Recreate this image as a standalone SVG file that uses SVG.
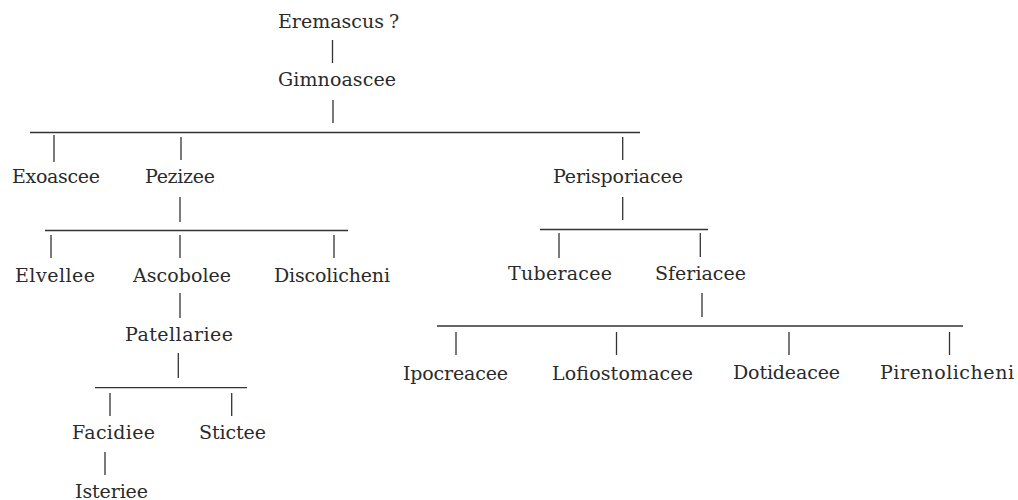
<svg xmlns="http://www.w3.org/2000/svg" width="1018" height="500" viewBox="0 0 1018 500">
<style>
text{font-family:"DejaVu Serif","Liberation Serif",serif;font-size:19px;fill:#2a2a2a}
.c line{stroke:#333;stroke-width:1.3;fill:none}
</style>
<rect width="1018" height="500" fill="#fff"/>
<g class="c" id="connectors">
<line x1="332.5" y1="40" x2="332.5" y2="63"/>
<line x1="333" y1="100" x2="333" y2="123"/>
<line x1="30" y1="132.5" x2="640" y2="132.5"/>
<line x1="54" y1="135" x2="54" y2="162"/>
<line x1="181" y1="137" x2="181" y2="160"/>
<line x1="622.7" y1="137" x2="622.7" y2="160"/>
<line x1="180" y1="197" x2="180" y2="222"/>
<line x1="45" y1="230.5" x2="348" y2="230.5"/>
<line x1="51" y1="235" x2="51" y2="258"/>
<line x1="180" y1="235" x2="180" y2="258"/>
<line x1="334" y1="235" x2="334" y2="258"/>
<line x1="622.7" y1="197" x2="622.7" y2="220"/>
<line x1="540" y1="229.5" x2="708" y2="229.5"/>
<line x1="559" y1="233" x2="559" y2="258"/>
<line x1="700.3" y1="233" x2="700.3" y2="257"/>
<line x1="180" y1="293" x2="180" y2="318"/>
<line x1="702" y1="293" x2="702" y2="317"/>
<line x1="437" y1="326" x2="963" y2="326"/>
<line x1="456" y1="332" x2="456" y2="355"/>
<line x1="616.5" y1="332" x2="616.5" y2="355"/>
<line x1="789" y1="332" x2="789" y2="355"/>
<line x1="949.5" y1="332" x2="949.5" y2="355"/>
<line x1="178.3" y1="353" x2="178.3" y2="378"/>
<line x1="95" y1="387.7" x2="247" y2="387.7"/>
<line x1="110" y1="393" x2="110" y2="416"/>
<line x1="231.7" y1="393" x2="231.7" y2="416"/>
<line x1="105" y1="452" x2="105" y2="475"/>
</g>
<g id="n-eremascus"><text x="278" y="28">Eremascus<tspan dx="5">?</tspan></text></g>
<g id="n-gimnoascee"><text x="278" y="86" textLength="118" lengthAdjust="spacing">Gimnoascee</text></g>
<g id="n-exoascee"><text x="12" y="183" textLength="88" lengthAdjust="spacing">Exoascee</text></g>
<g id="n-pezizee"><text x="145" y="183" textLength="70" lengthAdjust="spacing">Pezizee</text></g>
<g id="n-perisporiacee"><text x="553" y="183" textLength="130" lengthAdjust="spacing">Perisporiacee</text></g>
<g id="n-elvellee"><text x="15" y="282" textLength="80" lengthAdjust="spacing">Elvellee</text></g>
<g id="n-ascobolee"><text x="133" y="282" textLength="98" lengthAdjust="spacing">Ascobolee</text></g>
<g id="n-discolicheni"><text x="274" y="282" textLength="116" lengthAdjust="spacing">Discolicheni</text></g>
<g id="n-tuberacee"><text x="508" y="280" textLength="104" lengthAdjust="spacing">Tuberacee</text></g>
<g id="n-sferiacee"><text x="655" y="280" textLength="91" lengthAdjust="spacing">Sferiacee</text></g>
<g id="n-patellariee"><text x="125" y="341" textLength="108" lengthAdjust="spacing">Patellariee</text></g>
<g id="n-ipocreacee"><text x="403" y="380" textLength="105" lengthAdjust="spacing">Ipocreacee</text></g>
<g id="n-lofiostomacee"><text x="552" y="380" textLength="141" lengthAdjust="spacing">Lofiostomacee</text></g>
<g id="n-dotideacee"><text x="733" y="379" textLength="107" lengthAdjust="spacing">Dotideacee</text></g>
<g id="n-pirenolicheni"><text x="880" y="379" textLength="134" lengthAdjust="spacing">Pirenolicheni</text></g>
<g id="n-facidiee"><text x="72" y="439" textLength="83" lengthAdjust="spacing">Facidiee</text></g>
<g id="n-stictee"><text x="199" y="439" textLength="67" lengthAdjust="spacing">Stictee</text></g>
<g id="n-isteriee"><text x="75" y="498" textLength="73" lengthAdjust="spacing">Isteriee</text></g>
</svg>
